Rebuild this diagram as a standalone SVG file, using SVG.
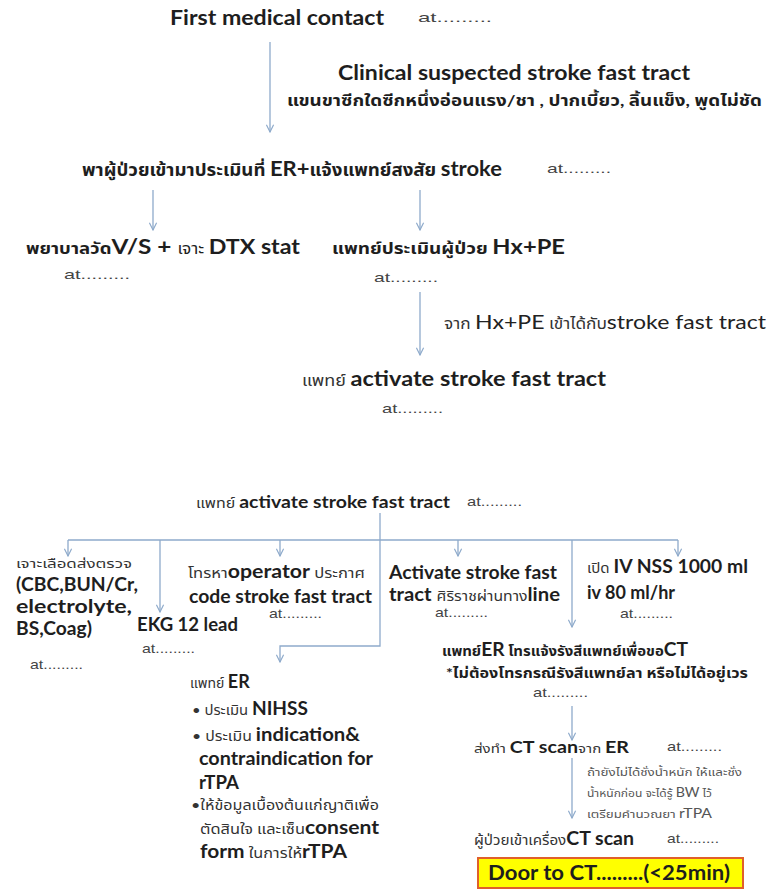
<svg xmlns="http://www.w3.org/2000/svg" width="772" height="891" viewBox="0 0 772 891">
<defs>
<style>
text{font-family:"Lato","Noto Sans Thai","Tahoma","Liberation Sans",sans-serif;fill:#1e1e1e}
.b{font-weight:bold}
.th{font-weight:normal;fill:#333}
.at{font-size:13px;fill:#444;font-family:"Liberation Sans","Noto Sans",sans-serif}
.sm{font-size:11px;fill:#555}
.ln{fill:none;stroke:#8eaacb;stroke-width:1.3}
</style>
<marker id="ah" viewBox="0 0 10 10" refX="9" refY="5" markerWidth="9" markerHeight="9" orient="auto" markerUnits="userSpaceOnUse">
<path d="M1,1 L9,5 L1,9" fill="none" stroke="#8eaacb" stroke-width="1.3"/>
</marker>
</defs>
<rect width="772" height="891" fill="#ffffff"/>

<g id="connectors">
<line class="ln" x1="270" y1="42" x2="270" y2="132" marker-end="url(#ah)"/>
<line class="ln" x1="153" y1="190" x2="153" y2="230" marker-end="url(#ah)"/>
<line class="ln" x1="420" y1="190" x2="420" y2="230" marker-end="url(#ah)"/>
<line class="ln" x1="420" y1="292" x2="420" y2="355" marker-end="url(#ah)"/>

<line class="ln" x1="68" y1="540" x2="678" y2="540"/>
<polyline class="ln" points="380,513 380,646 280,646 280,662" marker-end="url(#ah)"/>
<line class="ln" x1="68" y1="540" x2="68" y2="556" marker-end="url(#ah)"/>
<line class="ln" x1="280" y1="540" x2="280" y2="556" marker-end="url(#ah)"/>
<line class="ln" x1="458" y1="540" x2="458" y2="556" marker-end="url(#ah)"/>
<line class="ln" x1="678" y1="540" x2="678" y2="556" marker-end="url(#ah)"/>
<line class="ln" x1="160" y1="540" x2="160" y2="612" marker-end="url(#ah)"/>
<line class="ln" x1="572" y1="540" x2="572" y2="627" marker-end="url(#ah)"/>
<line class="ln" x1="572" y1="706" x2="572" y2="740" marker-end="url(#ah)"/>
<line class="ln" x1="572" y1="758" x2="572" y2="818" marker-end="url(#ah)"/>
</g>

<g id="first-contact">
<text x="170" y="25" class="b" font-size="21" textLength="214" lengthAdjust="spacingAndGlyphs">First medical contact</text>
<text x="418" y="22" class="at" font-size="14" textLength="74" lengthAdjust="spacingAndGlyphs">at.........</text>
</g>

<g id="clinical">
<text x="338" y="80" class="b" font-size="20" textLength="352" lengthAdjust="spacingAndGlyphs">Clinical suspected stroke fast tract</text>
<text x="287" y="106" font-size="16" font-weight="bold" fill="#222" textLength="475" lengthAdjust="spacingAndGlyphs">แขนขาซีกใดซีกหนึ่งอ่อนแรง/ชา , ปากเบี้ยว, ลิ้นแข็ง, พูดไม่ชัด</text>
</g>

<g id="er-assess">
<text x="82" y="176" font-size="17" class="b" textLength="420" lengthAdjust="spacingAndGlyphs">พาผู้ป่วยเข้ามาประเมินที่ <tspan font-size="20">ER+</tspan>แจ้งแพทย์สงสัย <tspan font-size="20">stroke</tspan></text>
<text x="547" y="173" class="at" textLength="64" lengthAdjust="spacingAndGlyphs">at.........</text>
</g>

<g id="nurse">
<text x="26" y="254" font-size="16" class="b" textLength="274" lengthAdjust="spacingAndGlyphs">พยาบาลวัด<tspan font-size="21">V/S + </tspan><tspan font-size="15" font-weight="normal">เจาะ </tspan><tspan font-size="20">DTX stat</tspan></text>
<text x="64" y="279" class="at" textLength="66" lengthAdjust="spacingAndGlyphs">at.........</text>
</g>

<g id="doctor-assess">
<text x="332" y="254" font-size="16" class="b" textLength="233" lengthAdjust="spacingAndGlyphs">แพทย์ประเมินผู้ป่วย <tspan font-size="20">Hx+PE</tspan></text>
<text x="374" y="282" class="at" textLength="64" lengthAdjust="spacingAndGlyphs">at.........</text>
</g>

<g id="hxpe-label">
<text x="444" y="329" font-size="15" class="th" textLength="322" lengthAdjust="spacingAndGlyphs">จาก <tspan font-size="20" fill="#222">Hx+PE</tspan> เข้าได้กับ<tspan font-size="20" fill="#222">stroke fast tract</tspan></text>
</g>

<g id="activate-top">
<text x="302" y="386" font-size="16" class="th" textLength="304" lengthAdjust="spacingAndGlyphs">แพทย์ <tspan class="b" font-size="21" fill="#1e1e1e">activate stroke fast tract</tspan></text>
<text x="382" y="413" class="at" textLength="61" lengthAdjust="spacingAndGlyphs">at.........</text>
</g>

<g id="activate-bottom">
<text x="196" y="508" font-size="14" class="th" textLength="254" lengthAdjust="spacingAndGlyphs">แพทย์ <tspan class="b" font-size="17" fill="#1e1e1e">activate stroke fast tract</tspan></text>
<text x="467" y="506" class="at" font-size="11" textLength="55" lengthAdjust="spacingAndGlyphs">at.........</text>
</g>

<g id="blood">
<text x="16" y="568" font-size="13" class="th" textLength="116" lengthAdjust="spacingAndGlyphs">เจาะเลือดส่งตรวจ</text>
<text x="16" y="591" class="b" font-size="18" textLength="122" lengthAdjust="spacingAndGlyphs">(CBC,BUN/Cr,</text>
<text x="16" y="613" class="b" font-size="18" textLength="116" lengthAdjust="spacingAndGlyphs">electrolyte,</text>
<text x="16" y="635" class="b" font-size="18" textLength="76" lengthAdjust="spacingAndGlyphs">BS,Coag)</text>
<text x="30" y="669" class="at" font-size="11" textLength="53" lengthAdjust="spacingAndGlyphs">at.........</text>
</g>

<g id="ekg">
<text x="137" y="631" class="b" font-size="18" textLength="101" lengthAdjust="spacingAndGlyphs">EKG 12 lead</text>
<text x="142" y="653" class="at" font-size="11" textLength="53" lengthAdjust="spacingAndGlyphs">at.........</text>
</g>

<g id="operator">
<text x="188" y="578" font-size="14" class="th" textLength="177" lengthAdjust="spacingAndGlyphs">โทรหา<tspan class="b" font-size="18" fill="#1e1e1e">operator</tspan> ประกาศ</text>
<text x="189" y="603" class="b" font-size="18" textLength="183" lengthAdjust="spacingAndGlyphs">code stroke fast tract</text>
<text x="269" y="618" class="at" font-size="11" textLength="53" lengthAdjust="spacingAndGlyphs">at.........</text>
</g>

<g id="siriraj">
<text x="389" y="579" class="b" font-size="18" textLength="168" lengthAdjust="spacingAndGlyphs">Activate stroke fast</text>
<text x="389" y="601" class="b" font-size="18" textLength="171" lengthAdjust="spacingAndGlyphs">tract <tspan font-size="14" font-weight="normal" fill="#333">ศิริราชผ่านทาง</tspan>line</text>
<text x="435" y="617" class="at" font-size="11" textLength="53" lengthAdjust="spacingAndGlyphs">at.........</text>
</g>

<g id="iv">
<text x="587" y="573" font-size="14" class="th" textLength="161" lengthAdjust="spacingAndGlyphs">เปิด <tspan class="b" font-size="18" fill="#1e1e1e">IV NSS 1000 ml</tspan></text>
<text x="587" y="599" class="b" font-size="18" textLength="88" lengthAdjust="spacingAndGlyphs">iv 80 ml/hr</text>
<text x="620" y="618" class="at" font-size="11" textLength="53" lengthAdjust="spacingAndGlyphs">at.........</text>
</g>

<g id="radiologist">
<text x="442" y="656" font-size="14" class="b" fill="#222" textLength="246" lengthAdjust="spacingAndGlyphs">แพทย์<tspan font-size="18">ER</tspan> โทรแจ้งรังสีแพทย์เพื่อขอ<tspan font-size="18">CT</tspan></text>
<text x="446" y="678" font-size="14" class="b" fill="#222" textLength="302" lengthAdjust="spacingAndGlyphs">*ไม่ต้องโทรกรณีรังสีแพทย์ลา หรือไม่ได้อยู่เวร</text>
<text x="533" y="697" class="at" font-size="11" textLength="55" lengthAdjust="spacingAndGlyphs">at.........</text>
</g>

<g id="ct-send">
<text x="474" y="753" font-size="13" class="th" textLength="155" lengthAdjust="spacingAndGlyphs">ส่งทำ <tspan class="b" font-size="17" fill="#1e1e1e">CT scan</tspan>จาก <tspan class="b" font-size="17" fill="#1e1e1e">ER</tspan></text>
<text x="667" y="751" class="at" font-size="11" textLength="55" lengthAdjust="spacingAndGlyphs">at.........</text>
</g>

<g id="weight-note">
<text x="587" y="776" class="sm" textLength="155" lengthAdjust="spacingAndGlyphs">ถ้ายังไม่ได้ชั่งน้ำหนัก  ให้และชั่ง</text>
<text x="587" y="797" class="sm" textLength="125" lengthAdjust="spacingAndGlyphs">น้ำหนักก่อน  จะได้รู้  <tspan font-size="13">BW</tspan> ไว้</text>
<text x="587" y="818" class="sm" textLength="125" lengthAdjust="spacingAndGlyphs">เตรียมคำนวณยา  <tspan font-size="13">rTPA</tspan></text>
</g>

<g id="ct-in">
<text x="474" y="845" font-size="14" class="th" textLength="160" lengthAdjust="spacingAndGlyphs">ผู้ป่วยเข้าเครื่อง<tspan class="b" font-size="18" fill="#1e1e1e">CT scan</tspan></text>
<text x="667" y="843" class="at" font-size="11" textLength="52" lengthAdjust="spacingAndGlyphs">at.........</text>
</g>

<g id="door-to-ct">
<rect x="478" y="858" width="265" height="30" fill="#ffff00" stroke="#e0602a" stroke-width="2"/>
<text x="488" y="880" class="b" font-size="20" textLength="242" lengthAdjust="spacingAndGlyphs">Door to CT.........(&lt;25min)</text>
</g>

<g id="er-doctor">
<text x="190" y="688" font-size="14" class="th">แพทย์ <tspan class="b" font-size="18" fill="#1e1e1e">ER</tspan></text>
<text x="192" y="715" font-size="14" class="th" textLength="116" lengthAdjust="spacingAndGlyphs">• ประเมิน <tspan class="b" font-size="18" fill="#1e1e1e">NIHSS</tspan></text>
<text x="192" y="741" font-size="14" class="th" textLength="168" lengthAdjust="spacingAndGlyphs">• ประเมิน <tspan class="b" font-size="18" fill="#1e1e1e">indication&amp;</tspan></text>
<text x="199" y="765" class="b" font-size="18" textLength="174" lengthAdjust="spacingAndGlyphs">contraindication for</text>
<text x="199" y="789" class="b" font-size="18" textLength="40" lengthAdjust="spacingAndGlyphs">rTPA</text>
<text x="191" y="810" font-size="14" class="th" textLength="188" lengthAdjust="spacingAndGlyphs">•ให้ข้อมูลเบื้องต้นแก่ญาติเพื่อ</text>
<text x="200" y="834" font-size="14" class="th" textLength="179" lengthAdjust="spacingAndGlyphs">ตัดสินใจ และเซ็น<tspan class="b" font-size="18" fill="#1e1e1e">consent</tspan></text>
<text x="200" y="858" font-size="14" class="th" textLength="147" lengthAdjust="spacingAndGlyphs"><tspan class="b" font-size="18" fill="#1e1e1e">form</tspan> ในการให้<tspan class="b" font-size="18" fill="#1e1e1e">rTPA</tspan></text>
</g>
</svg>
